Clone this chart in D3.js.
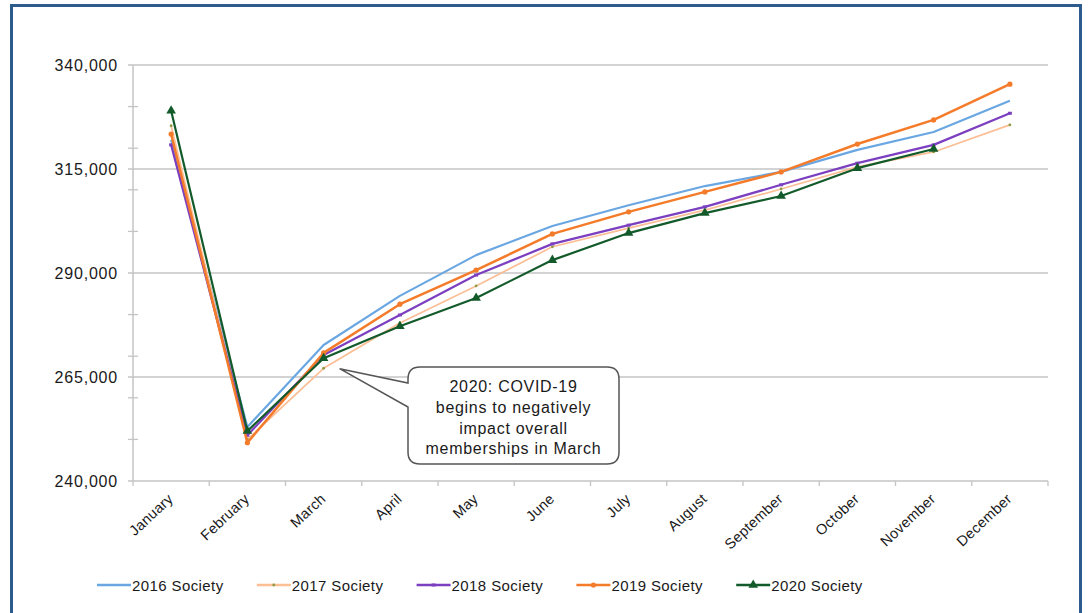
<!DOCTYPE html>
<html>
<head>
<meta charset="utf-8">
<script src="https://cdn.jsdelivr.net/npm/d3@7"></script>
<style>
  body { margin: 0; background: #fff; }
  text { font-family: "Liberation Sans", Arial, sans-serif; fill: #1a1a1a; }
</style>
</head>
<body>
<svg id="chart" width="1088" height="613"></svg>
<script>
// --- données ---
const months = ["January", "February", "March", "April", "May", "June",
  "July", "August", "September", "October", "November", "December"];

const s2016 = [322000, 253000, 272700, 284500, 294300, 301300, 306300, 310900, 314300, 319600, 323900, 331400];
const s2017 = [325400, 250000, 267100, 278000, 286900, 296300, 300800, 305100, 310200, 315500, 319100, 325600];
const s2018 = [320800, 251000, 270300, 279900, 289500, 297000, 301500, 305900, 311200, 316400, 320800, 328400];
const s2019 = [323400, 249200, 270800, 282500, 290700, 299400, 304700, 309500, 314300, 321000, 326800, 335400];
const s2020 = [329000, 252000, 269500, 277200, 284000, 293100, 299600, 304400, 308500, 315200, 319800];

const seriesNames = ["2016 Society", "2017 Society", "2018 Society", "2019 Society", "2020 Society"];
const yMajor = [240000, 265000, 290000, 315000, 340000];
const yMinor = [250000, 260000, 270000, 280000, 300000, 310000, 320000, 330000];

const noteLines = ["2020: COVID-19", "begins to negatively", "impact overall", "memberships in March"];

// --- styles ---
const styles = [
  { color: "#6aa7e2", width: 2.2, marker: "none" },
  { color: "#fbbe95", width: 1.7, marker: "dot" },
  { color: "#7c3fc0", width: 2.2, marker: "dash" },
  { color: "#f47b29", width: 2.5, marker: "circle" },
  { color: "#135a2b", width: 2.2, marker: "triangle" }
];
const allSeries = [s2016, s2017, s2018, s2019, s2020];

const svg = d3.select("#chart");

// cadre bleu
svg.append("rect")
  .attr("x", 11.5).attr("y", 5.5)
  .attr("width", 1069).attr("height", 640)
  .attr("fill", "none")
  .attr("stroke", "#2d5b8e")
  .attr("stroke-width", 3);

const plotLeft = 133, plotRight = 1048, plotTop = 65, plotBottom = 481;

const x = d3.scaleBand().domain(months).range([plotLeft, plotRight]).paddingInner(0);
const cx = m => x(m) + x.bandwidth() / 2;
const y = d3.scaleLinear().domain([240000, 340000]).range([plotBottom, plotTop]);

// grille horizontale
svg.append("g")
  .selectAll("line")
  .data(yMajor)
  .join("line")
  .attr("x1", plotLeft - 5).attr("x2", plotRight)
  .attr("y1", d => y(d)).attr("y2", d => y(d))
  .attr("stroke", "#d3d3d3")
  .attr("stroke-width", 2);

// petites graduations (traversent l'axe)
svg.append("g")
  .selectAll("line")
  .data(yMinor)
  .join("line")
  .attr("x1", plotLeft - 5).attr("x2", plotLeft + 5)
  .attr("y1", d => y(d)).attr("y2", d => y(d))
  .attr("stroke", "#c4c4c4")
  .attr("stroke-width", 1.3);

// axe vertical
svg.append("line")
  .attr("x1", plotLeft).attr("x2", plotLeft)
  .attr("y1", plotTop).attr("y2", plotBottom)
  .attr("stroke", "#c4c4c4").attr("stroke-width", 1.5);

// étiquettes Y
const yAxis = svg.append("g")
  .attr("transform", `translate(${plotLeft},0)`)
  .call(d3.axisLeft(y).tickValues(yMajor).tickFormat(d3.format(",")).tickSize(0).tickPadding(15));
yAxis.select(".domain").remove();
yAxis.selectAll("text")
  .attr("font-size", 16)
  .attr("letter-spacing", "0.8px")
  .style("font-family", "Liberation Sans, Arial, sans-serif")
  .attr("fill", "#222");

// graduations X aux limites des catégories
const bounds = months.map(m => x(m)).concat([plotRight]);
svg.append("g")
  .selectAll("line")
  .data(bounds)
  .join("line")
  .attr("x1", d => d).attr("x2", d => d)
  .attr("y1", plotBottom).attr("y2", plotBottom + 5)
  .attr("stroke", "#c4c4c4").attr("stroke-width", 1.3);

// étiquettes X tournées
svg.append("g")
  .selectAll("text")
  .data(months)
  .join("text")
  .attr("transform", d => `translate(${cx(d) + 3},${plotBottom + 19}) rotate(-43)`)
  .attr("text-anchor", "end")
  .attr("font-size", 14.5)
  .attr("letter-spacing", "0.3px")
  .text(d => d);

// --- courbes ---
const line = d3.line()
  .x((d, i) => cx(months[i]))
  .y(d => y(d));

function drawMarker(g, type, color, px, py) {
  if (type === "dot") {
    g.append("circle").attr("cx", px).attr("cy", py).attr("r", 1.4).attr("fill", "#8f9a45");
  } else if (type === "dash") {
    g.append("line").attr("x1", px - 2).attr("x2", px + 2).attr("y1", py).attr("y2", py)
      .attr("stroke", color).attr("stroke-width", 3);
  } else if (type === "circle") {
    g.append("circle").attr("cx", px).attr("cy", py).attr("r", 2.6).attr("fill", color);
  } else if (type === "triangle") {
    g.append("path")
      .attr("d", d3.symbol().type(d3.symbolTriangle).size(40)())
      .attr("transform", `translate(${px},${py})`)
      .attr("fill", color);
  }
}

allSeries.forEach((vals, k) => {
  const st = styles[k];
  const g = svg.append("g");
  g.append("path")
    .datum(vals)
    .attr("d", line)
    .attr("fill", "none")
    .attr("stroke", st.color)
    .attr("stroke-width", st.width)
    .attr("stroke-linejoin", "round");
  vals.forEach((v, i) => drawMarker(g, st.marker, st.color, cx(months[i]), y(v)));
});

// --- bulle d'annotation ---
const tipX = cx("March") + 16, tipY = y(267000);
const bx0 = 408, bx1 = 619, by0 = 367, by1 = 464, r = 12;
const bubble = d3.path();
bubble.moveTo(bx0 + r, by0);
bubble.lineTo(bx1 - r, by0);
bubble.quadraticCurveTo(bx1, by0, bx1, by0 + r);
bubble.lineTo(bx1, by1 - r);
bubble.quadraticCurveTo(bx1, by1, bx1 - r, by1);
bubble.lineTo(bx0 + r, by1);
bubble.quadraticCurveTo(bx0, by1, bx0, by1 - r);
bubble.lineTo(bx0, 407);
bubble.lineTo(tipX, tipY);
bubble.lineTo(bx0, 383);
bubble.lineTo(bx0, by0 + r);
bubble.quadraticCurveTo(bx0, by0, bx0 + r, by0);
bubble.closePath();
svg.append("path")
  .attr("d", bubble.toString())
  .attr("fill", "#fff")
  .attr("stroke", "#555")
  .attr("stroke-width", 1.5);

svg.append("g")
  .selectAll("text")
  .data(noteLines)
  .join("text")
  .attr("x", (bx0 + bx1) / 2)
  .attr("y", (d, i) => 392 + i * 20.8)
  .attr("text-anchor", "middle")
  .attr("font-size", 16)
  .attr("letter-spacing", "0.7px")
  .text(d => d);

// --- légende ---
const legend = svg.append("g").attr("transform", "translate(97,585)");
seriesNames.forEach((name, k) => {
  const st = styles[k];
  const g = legend.append("g").attr("transform", `translate(${k * 159.8},0)`);
  g.append("line").attr("x1", 0).attr("x2", 34).attr("y1", 0).attr("y2", 0)
    .attr("stroke", st.color).attr("stroke-width", 2.6);
  drawMarker(g, st.marker, st.color, 17, 0);
  g.append("text")
    .attr("x", 35).attr("y", 5.5)
    .attr("font-size", 15)
    .attr("letter-spacing", "0.4px")
    .text(name);
});
</script>
</body>
</html>
